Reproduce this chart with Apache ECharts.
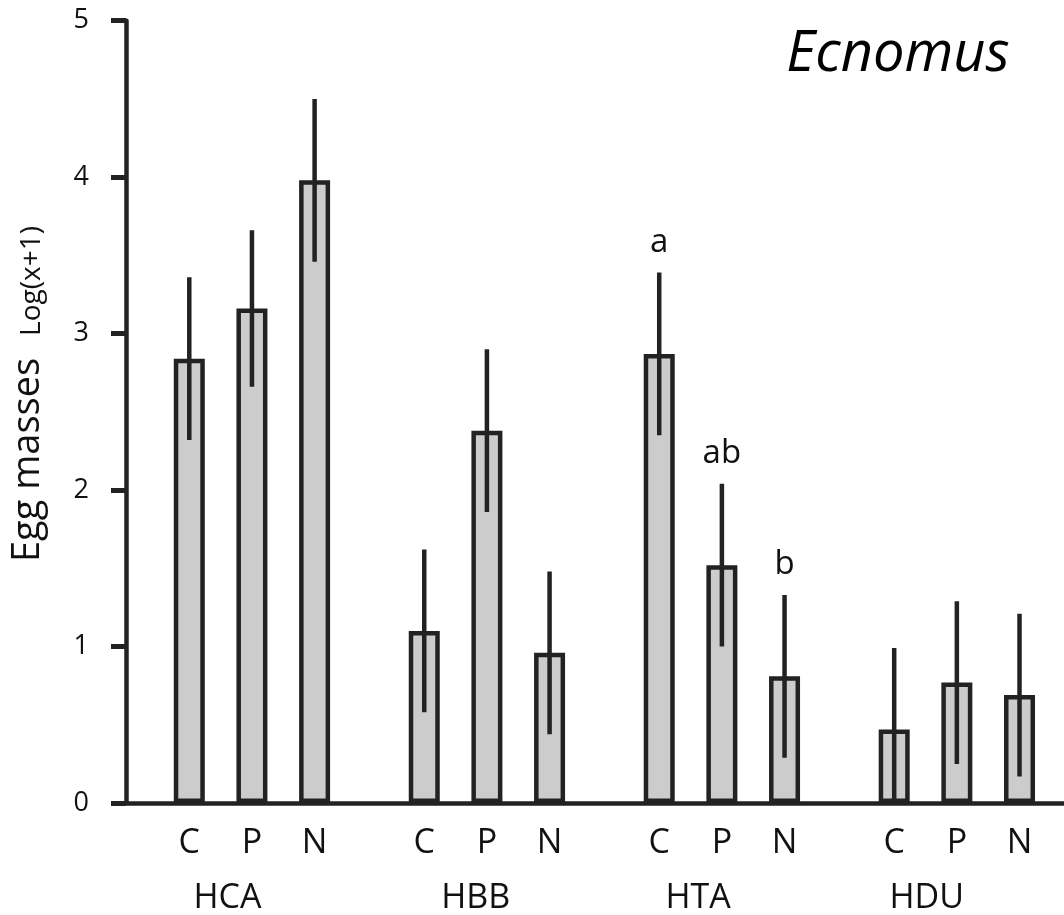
<!DOCTYPE html>
<html>
<head>
<meta charset="utf-8">
<title>Ecnomus egg masses</title>
<script src="https://cdn.jsdelivr.net/npm/echarts@6/dist/echarts.min.js"></script>
<style>
  html, body { margin: 0; padding: 0; background: #ffffff; }
  #chart { width: 1064px; height: 915px; }
</style>
</head>
<body>
<div id="chart"></div>
<script>
// Sites and treatments
const groups = ['HCA', 'HBB', 'HTA', 'HDU'];
const treatments = ['C', 'P', 'N'];

// Mean egg masses, log(x+1), one row per site (C, P, N)
const meanHCA = [2.84, 3.16, 3.98];
const meanHBB = [1.10, 2.38, 0.96];
const meanHTA = [2.87, 1.52, 0.81];
const meanHDU = [0.47, 0.77, 0.69];

// Standard errors, same layout
const seHCA = [0.52, 0.50, 0.52];
const seHBB = [0.52, 0.52, 0.52];
const seHTA = [0.52, 0.52, 0.52];
const seHDU = [0.52, 0.52, 0.52];

// Significance letters (HTA only)
const lettersHCA = ['', '', ''];
const lettersHBB = ['', '', ''];
const lettersHTA = ['a', 'ab', 'b'];
const lettersHDU = ['', '', ''];

const yTicks = [0, 1, 2, 3, 4, 5];

const means = [meanHCA, meanHBB, meanHTA, meanHDU];
const ses = [seHCA, seHBB, seHTA, seHDU];
const letters = [lettersHCA, lettersHBB, lettersHTA, lettersHDU];

// Layout along the x value axis: bars one unit apart, groups 3.75 units apart;
// site names sit a little left of or right of each group's middle bar
const GROUP_STEP = 3.75;
const GROUP_LABEL_SHIFT = [0.61, 0.82, 0.62, 0.52];
const FONT = '"Open Sans", "Noto Sans", sans-serif';
const INK = '#222222';

const barData = [];
const errData = [];
const tickPos = [];
const tickText = {};
const groupPos = [];
const groupText = {};
groups.forEach((g, gi) => {
  treatments.forEach((t, ti) => {
    const x = gi * GROUP_STEP + ti;
    const m = means[gi][ti];
    const s = ses[gi][ti];
    barData.push([x, m]);
    errData.push([x, Math.max(0, m - s), m + s, letters[gi][ti]]);
    tickPos.push(x);
    tickText[Math.round(x * 100)] = t;
  });
  const gx = gi * GROUP_STEP + GROUP_LABEL_SHIFT[gi];
  groupPos.push(gx);
  groupText[Math.round(gx * 100)] = g;
});

const chart = echarts.init(document.getElementById('chart'), null, { renderer: 'canvas' });

const xMin = -1.01, xMax = 13.96;

chart.setOption({
  backgroundColor: '#ffffff',
  animation: false,
  grid: { left: 126, right: 0, top: 20.7, bottom: 111.7, containLabel: false },
  xAxis: [
    {
      type: 'value', min: xMin, max: xMax,
      splitLine: { show: false },
      axisLine: { show: true, onZero: true, lineStyle: { color: INK, width: 4.5 } },
      axisTick: { show: false },
      axisLabel: {
        show: true, customValues: tickPos, margin: 23,
        fontFamily: FONT, fontSize: 34, color: '#111111',
        formatter: v => tickText[Math.round(v * 100)] || ''
      }
    },
    {
      type: 'value', min: xMin, max: xMax, position: 'bottom', offset: 58,
      splitLine: { show: false },
      axisLine: { show: false },
      axisTick: { show: false },
      axisLabel: {
        show: true, customValues: groupPos, margin: 20,
        fontFamily: FONT, fontSize: 34, color: '#111111',
        formatter: v => groupText[Math.round(v * 100)] || ''
      }
    }
  ],
  yAxis: {
    type: 'value', min: yTicks[0], max: yTicks[yTicks.length - 1], interval: 1,
    splitLine: { show: false },
    axisLine: { show: true, onZero: false, lineStyle: { color: INK, width: 4.5 } },
    axisTick: { show: true, inside: false, length: 15, lineStyle: { color: INK, width: 5 } },
    axisLabel: { margin: 37, fontFamily: FONT, fontSize: 27, color: '#111111' }
  },
  graphic: [
    {
      type: 'text', x: 28.6, y: 460, rotation: Math.PI / 2,
      style: {
        text: 'Egg masses', align: 'center', verticalAlign: 'middle',
        fontFamily: FONT, fontSize: 38, fill: '#111111'
      }
    },
    {
      type: 'text', x: 31.6, y: 281, rotation: Math.PI / 2,
      style: {
        text: 'Log(x+1)', align: 'center', verticalAlign: 'middle',
        fontFamily: FONT, fontSize: 28, fill: '#111111'
      }
    },
    {
      type: 'text', x: 898, y: 55,
      style: {
        text: 'Ecnomus', align: 'center', verticalAlign: 'middle',
        fontFamily: FONT, fontStyle: 'italic', fontSize: 56, fill: '#000000'
      }
    }
  ],
  series: [
    {
      type: 'bar', xAxisIndex: 0, barWidth: 31,
      data: barData,
      itemStyle: { color: '#cccccc', borderColor: INK, borderWidth: 4.5 },
      z: 2
    },
    {
      type: 'custom', xAxisIndex: 0,
      data: errData,
      encode: { x: 0, y: [1, 2] },
      z: 3,
      renderItem: (params, api) => {
        const x = api.value(0);
        const lo = api.coord([x, api.value(1)]);
        const hi = api.coord([x, api.value(2)]);
        const label = errData[params.dataIndex][3];
        const children = [{
          type: 'line',
          shape: { x1: lo[0], y1: lo[1], x2: hi[0], y2: hi[1] },
          style: { stroke: INK, lineWidth: 4.5 }
        }];
        if (label) {
          children.push({
            type: 'text',
            style: {
              x: hi[0], y: hi[1] - 14, text: label,
              align: 'center', verticalAlign: 'bottom',
              fontFamily: FONT, fontSize: 33, fill: '#111111'
            }
          });
        }
        return { type: 'group', children };
      }
    }
  ]
});
</script>
</body>
</html>
